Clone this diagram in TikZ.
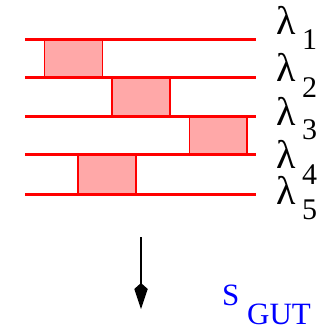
\documentclass[tikz,border=0pt]{standalone}
\usepackage{fontspec}
\setmainfont{Liberation Serif}
\usetikzlibrary{arrows.meta}
\definecolor{band}{RGB}{255,0,0}
\definecolor{cell}{RGB}{255,168,168}
\definecolor{gutblue}{RGB}{0,0,255}
\tikzset{
  level/.style={draw=band, line width=3pt},
  mixbox/.style={draw=band, fill=cell, line width=1.2pt},
  lam/.style={inner sep=0pt, anchor=base west, font=\fontsize{40}{40}\selectfont},
  lab/.style={inner sep=0pt, anchor=base west, font=\fontsize{31}{31}\selectfont},
  sub/.style={inner sep=0pt, anchor=base west, font=\fontsize{30}{30}\selectfont},
  flow/.style={line width=2.2pt, -{Kite[length=26pt, width=13.5pt, inset=6pt]}}
}
\begin{document}
\begin{tikzpicture}[x=1pt, y=-1pt]
\useasboundingbox (0,0) rectangle (322,328);
% shaded mixing cells between neighbouring levels
\draw[mixbox] (44.7,40) rectangle (102.3,78);
\draw[mixbox] (112,78) rectangle (170,117);
\draw[mixbox] (189.7,117) rectangle (247,155);
\draw[mixbox] (78,155) rectangle (136,194);
% the five levels
\foreach \yy in {40,78,117,155,194}
  \draw[level] (25,\yy) -- (256,\yy);
% level labels
\node[lam] (l1) at (276,35) {λ};  \node[sub] (s1) at (302,50) {1};
\node[lam] (l2) at (276,82) {λ};  \node[sub] (s2) at (302,98) {2};
\node[lam] (l3) at (276,126) {λ}; \node[sub] (s3) at (302,140) {3};
\node[lam] (l4) at (276,168) {λ}; \node[sub] (s4) at (302,185) {4};
\node[lam] (l5) at (276,204) {λ}; \node[sub] (s5) at (302,219) {5};
% evolution arrow
\coordinate (atop) at (141,237);
\coordinate (abot) at (141,309);
\draw[flow] (atop) -- (abot);
% scale label
\node[lab, text=gutblue] (sS) at (222,305) {S};
\node[lab, text=gutblue] (sG) at (247,324) {GUT};
\end{tikzpicture}
\end{document}
